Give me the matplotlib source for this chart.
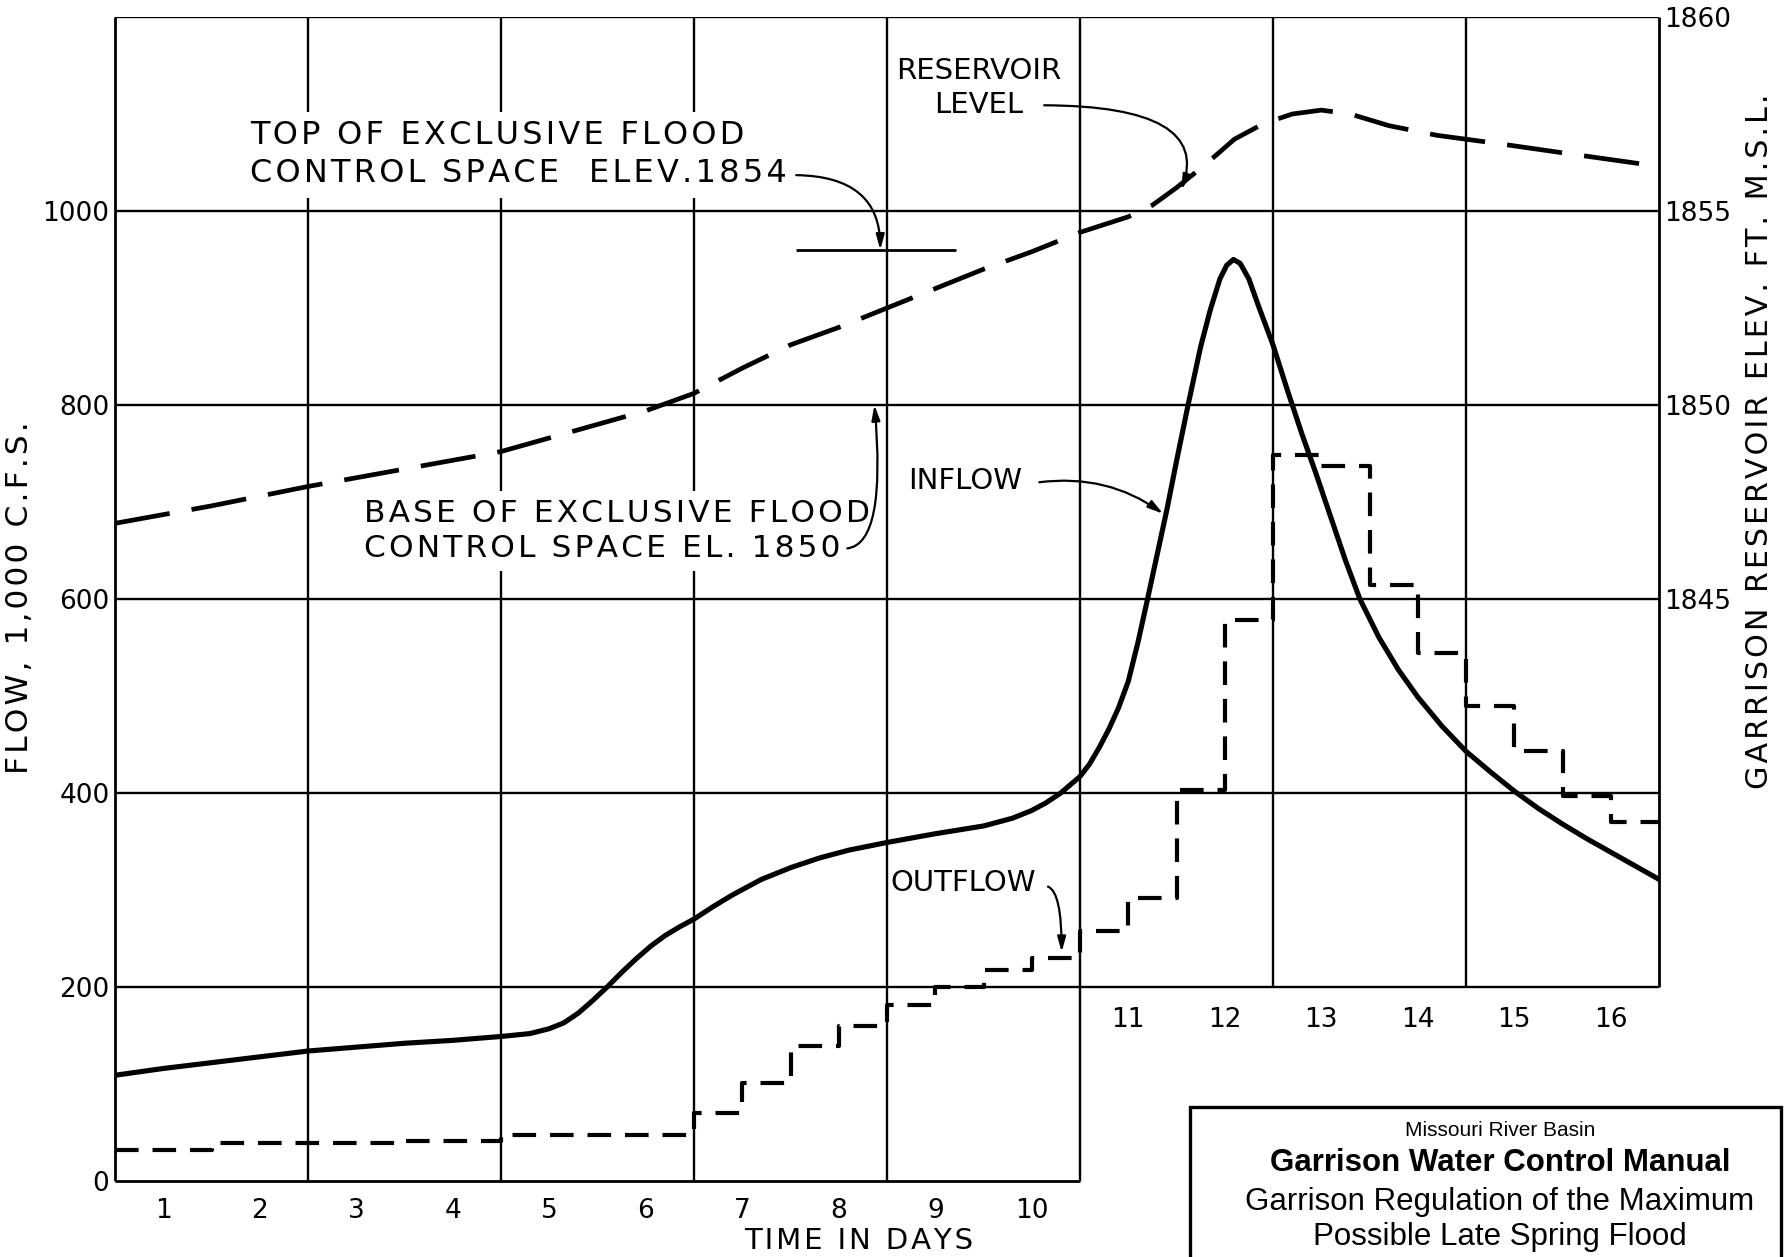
import matplotlib
matplotlib.use("Agg")
import matplotlib.pyplot as plt
from matplotlib.patches import Rectangle

plt.rcParams['font.family'] = ['DejaVu Sans']
plt.rcParams['lines.scale_dashes'] = False

# inflow hydrograph, 1,000 cfs
inflow_day = [0.5, 1.0, 1.5, 2.0, 2.5, 3.0, 3.5, 4.0, 4.5, 4.8, 5.0, 5.15, 5.3, 5.45,
              5.6, 5.75, 5.9, 6.05, 6.2, 6.35, 6.5, 6.7, 6.9, 7.2, 7.5, 7.8, 8.1, 8.5,
              9.0, 9.5, 9.8, 10.0, 10.15, 10.3, 10.5, 10.6, 10.7, 10.8, 10.9, 11.0,
              11.1, 11.2, 11.3, 11.4, 11.5, 11.62, 11.75, 11.85, 11.95, 12.02, 12.09,
              12.16, 12.25, 12.35, 12.5, 12.65, 12.8, 12.95, 13.1, 13.25, 13.4, 13.6,
              13.8, 14.0, 14.25, 14.5, 14.75, 15.0, 15.25, 15.5, 15.75, 16.0, 16.25, 16.5]
inflow = [109, 116, 122, 128, 134, 138, 142, 145, 149, 152, 157, 163, 173, 186,
          200, 215, 229, 242, 253, 262, 270, 283, 295, 311, 323, 333, 341, 349,
          358, 366, 374, 382, 390, 400, 417, 430, 447, 466, 488, 515,
          555, 600, 646, 692, 742, 800, 860, 898, 930, 944, 950,
          946, 930, 902, 862, 815, 770, 728, 684, 640, 600, 560,
          527, 499, 469, 443, 422, 402, 384, 368, 353, 339, 325, 311]

# regulated outflow, steps start at these days
outflow_day = [0.5, 1.5, 3.5, 4.5, 6.5, 7.0, 7.5, 8.0, 8.5, 9.0, 9.5, 10.0, 10.5,
               11.0, 11.5, 12.0, 12.5, 13.0, 13.5, 14.0, 14.5, 15.0, 15.5, 16.0, 16.5]
outflow = [32, 39, 41, 47, 70, 101, 139, 160, 181, 200, 218, 230, 258,
           292, 403, 578, 748, 737, 614, 544, 490, 443, 397, 370, 370]

# reservoir level, ft msl
level_day = [0.5, 1.5, 2.5, 3.5, 4.5, 5.5, 6.0, 6.5, 7.0, 7.5, 8.0, 8.5, 9.0, 9.5,
             10.0, 10.5, 11.0, 11.25, 11.5, 11.8, 12.1, 12.4, 12.7, 13.0, 13.3,
             13.7, 14.2, 14.8, 15.5, 16.5]
level = [1846.95, 1847.4, 1847.9, 1848.35, 1848.8, 1849.5, 1849.85, 1850.3, 1850.95,
         1851.55, 1852.0, 1852.5, 1853.0, 1853.5, 1853.95, 1854.45, 1854.85, 1855.15,
         1855.6, 1856.2, 1856.85, 1857.25, 1857.5, 1857.6, 1857.5, 1857.2, 1856.95,
         1856.75, 1856.5, 1856.15]

top_flood_elev = 1854
top_flood_span = (7.56, 9.22)

flow_ticks = [0, 200, 400, 600, 800, 1000]
elev_ticks = [1845, 1850, 1855, 1860]
days_low = [1, 2, 3, 4, 5, 6, 7, 8, 9, 10]
days_high = [11, 12, 13, 14, 15, 16]


def spaced(s):
    # lettering on the original is drawn with open letter spacing
    return '\n'.join('\u200a'.join(line) for line in s.split('\n'))


W, H = 1785, 1257
fig = plt.figure(figsize=(W / 100, H / 100), dpi=100)
ax = fig.add_axes([115 / W, 1 - 1181 / H, (1659 - 115) / W, (1181 - 17) / H])
ax.set_xlim(0.5, 16.5)
ax.set_ylim(0, 1200)
for s in ax.spines.values():
    s.set_visible(False)

ax2 = ax.twinx()
ax2.set_ylim(1830, 1860)
for s in ax2.spines.values():
    s.set_visible(False)

# grid / frame (L-shaped, lower right cut away)
glw = 1.7
ax.vlines([2.5, 4.5, 6.5, 8.5, 10.5], 0, 1200, color='k', lw=glw, zorder=1)
ax.vlines([12.5, 14.5], 200, 1200, color='k', lw=glw, zorder=1)
ax.hlines([200, 400, 600, 800, 1000, 1200], 0.5, 16.5, color='k', lw=glw, zorder=1)
ax.hlines(0, 0.5, 10.5, color='k', lw=2.0, zorder=1, clip_on=False)
ax.vlines(0.5, 0, 1200, color='k', lw=2.0, zorder=1, clip_on=False)
ax.vlines(16.5, 200, 1200, color='k', lw=2.0, zorder=1, clip_on=False)

ax.plot(inflow_day, inflow, color='k', lw=3.7, solid_capstyle='round',
        solid_joinstyle='round', zorder=3)
ax.step(outflow_day, outflow, where='post', color='k', lw=3.0,
        dashes=(17, 10), zorder=3)
ax2.plot(level_day, level, color='k', lw=3.4, dashes=(40, 16), zorder=3)
ax2.hlines(top_flood_elev, *top_flood_span, color='k', lw=2.0)

# ticks
ax.set_yticks(flow_ticks)
ax.set_yticklabels([str(v) for v in flow_ticks])
ax.tick_params(axis='y', length=0, pad=4, labelsize=19)
ax.set_xticks(days_low)
ax.set_xticklabels([str(d) for d in days_low])
ax.tick_params(axis='x', length=0, pad=12, labelsize=19)
for d in days_high:
    ax.annotate(str(d), xy=(d, 200), xytext=(0, -24), textcoords='offset points',
                ha='center', va='center', fontsize=19)
ax2.set_yticks(elev_ticks)
ax2.set_yticklabels([str(v) for v in elev_ticks])
ax2.tick_params(axis='y', length=0, pad=4, labelsize=19)

fig.text(20 / W, 1 - 598 / H, spaced('FLOW, 1,000 C.F.S.'), rotation=90,
         ha='center', va='center', fontsize=22.5)
fig.text(1759 / W, 1 - 441 / H, spaced('GARRISON RESERVOIR ELEV. FT. M.S.L.'),
         rotation=90, ha='center', va='center', fontsize=21.7)
fig.text(859 / W, 1 - 1241 / H, spaced('TIME IN DAYS'), ha='center', va='center',
         fontsize=21)

# annotations
tsize = 21
wbox = dict(facecolor='white', edgecolor='none', pad=6)
arr = dict(arrowstyle='-|>,head_length=0.9,head_width=0.25', color='k', lw=1.6,
           shrinkA=2, shrinkB=0)

ax.text(1.90, 1058, spaced('TOP OF EXCLUSIVE FLOOD\nCONTROL SPACE  ELEV.1854'),
        ha='left', va='center', fontsize=23, linespacing=1.3, bbox=wbox, zorder=2)
ax.annotate('', xy=(8.43, 960), xytext=(7.53, 1037),
            arrowprops=dict(arr, connectionstyle='angle3,angleA=0,angleB=90'), zorder=4)

ax.text(9.45, 1127, 'RESERVOIR\nLEVEL', ha='center', va='center', fontsize=tsize,
        linespacing=1.3, zorder=2)
ax.annotate('', xy=(11.55, 1022), xytext=(10.1, 1109),
            arrowprops=dict(arr, connectionstyle='angle3,angleA=0,angleB=70'), zorder=4)

ax.text(3.08, 670, spaced('BASE OF EXCLUSIVE FLOOD\nCONTROL SPACE EL. 1850'),
        ha='left', va='center', fontsize=22.5, linespacing=1.25, bbox=wbox, zorder=2)
ax.annotate('', xy=(8.37, 800), xytext=(8.06, 652),
            arrowprops=dict(arr, connectionstyle='angle3,angleA=0,angleB=95'), zorder=4)

ax.text(8.72, 722, 'INFLOW', ha='left', va='center', fontsize=tsize, zorder=2)
ax.annotate('', xy=(11.36, 688), xytext=(10.05, 720),
            arrowprops=dict(arr, connectionstyle='arc3,rad=-0.2'), zorder=4)

ax.text(8.53, 307, 'OUTFLOW', ha='left', va='center', fontsize=tsize, zorder=2)
ax.annotate('', xy=(10.31, 236), xytext=(10.14, 304),
            arrowprops=dict(arr, connectionstyle='angle3,angleA=0,angleB=90'), zorder=4)

# title block
fig.patches.append(Rectangle((1190 / W, -0.02), (1781 - 1190) / W, 0.02 + 1 - 1107 / H,
                             transform=fig.transFigure, facecolor='white',
                             edgecolor='k', lw=2.4, zorder=10))
tx = 1500 / W
fig.text(tx, 1 - 1130 / H, 'Missouri River Basin', ha='center', va='center',
         family='Liberation Sans', fontsize=15, zorder=11)
fig.text(tx, 1 - 1163 / H, 'Garrison Water Control Manual', ha='center', va='center',
         family='Liberation Sans', fontsize=22.5, fontweight='bold', zorder=11)
fig.text(tx, 1 - 1202 / H, 'Garrison Regulation of the Maximum', ha='center',
         va='center', family='Liberation Sans', fontsize=22.5, zorder=11)
fig.text(tx, 1 - 1237 / H, 'Possible Late Spring Flood', ha='center', va='center',
         family='Liberation Sans', fontsize=22.5, zorder=11)

fig.savefig('out.png', dpi=100)
